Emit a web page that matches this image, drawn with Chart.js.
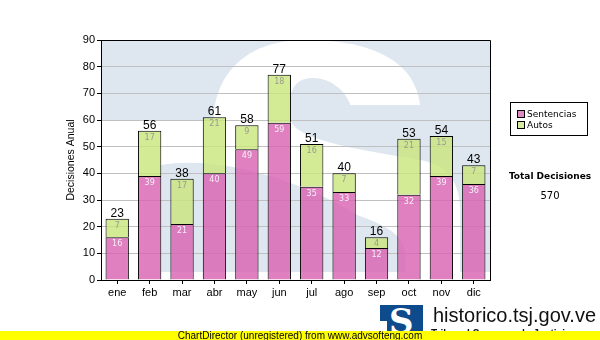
<!DOCTYPE html>
<html lang="es">
<head>
<meta charset="UTF-8">
<title>Decisiones Anual</title>
<script src="https://cdn.jsdelivr.net/npm/chart.js"></script>
<style>
    body { margin: 0; background: #fff; }
    #wrap { position: relative; width: 600px; height: 340px; overflow: hidden; font-family: Arial, "Liberation Sans", sans-serif; }
    #grafico { position: absolute; left: 0; top: 0; }

    /* leyenda y total a la derecha */
    #leyenda { position: absolute; left: 510px; top: 102px; width: 76px; height: 32px; border: 1px solid #000; background: #fff; font: 9px "DejaVu Sans", sans-serif; color: #000; }
    .item { position: absolute; left: 6px; height: 10px; line-height: 10px; white-space: nowrap; }
    .item i { position: absolute; left: 0; top: 1px; width: 6px; height: 6px; border: 1px solid #000; }
    .item span { position: absolute; left: 10px; top: 0; }
    #total-titulo { position: absolute; left: 500px; width: 100px; top: 171px; text-align: center; font: bold 9px "DejaVu Sans", sans-serif; }
    #total-valor { position: absolute; left: 500px; width: 100px; top: 190px; text-align: center; font: 10px "DejaVu Sans", sans-serif; }

    /* pie: logo y franja amarilla */
    #logo { position: absolute; left: 380px; top: 305px; width: 43px; height: 35px; background: #0d4b8c; overflow: hidden; }
    #logo b { position: absolute; left: 9px; top: -4px; color: #fff; font: bold 34px "DejaVu Serif", serif; }
    #logo em { position: absolute; left: 0; top: 16px; width: 7px; height: 20px; background: #fff; }
    #sitio { position: absolute; left: 433px; top: 305px; font: 20px Arial, "Liberation Sans", sans-serif; line-height: 20px; color: #111; }
    #tribunal { position: absolute; left: 431px; top: 328px; font: bold 10px Arial, "Liberation Sans", sans-serif; line-height: 12px; color: #111; }
    #franja { position: absolute; z-index: 5; left: 0; top: 331px; width: 600px; height: 9px; background: #ffff00; text-align: center; font: 10px Arial, "Liberation Sans", sans-serif; line-height: 9px; color: #000; }
</style>
</head>
<body>
<div id="wrap">
    <canvas id="grafico" width="600" height="340"></canvas>

    <div id="leyenda">
        <div class="item" style="top:6px"><i style="background:#e08ac6"></i><span>Sentencias</span></div>
        <div class="item" style="top:17px"><i style="background:#d6eca0"></i><span>Autos</span></div>
    </div>
    <div id="total-titulo">Total Decisiones</div>
    <div id="total-valor"></div>

    <div id="logo"><b>S</b><em></em></div>
    <div id="sitio">historico.tsj.gov.ve</div>
    <div id="tribunal">Tribunal Supremo de Justicia</div>
    <div id="franja">ChartDirector (unregistered) from www.advsofteng.com</div>
</div>

<script>
    const meses = ['ene', 'feb', 'mar', 'abr', 'may', 'jun', 'jul', 'ago', 'sep', 'oct', 'nov', 'dic'];
    const sentencias = [16, 39, 21, 40, 49, 59, 35, 33, 12, 32, 39, 36];
    const autos = [7, 17, 17, 21, 9, 18, 16, 7, 4, 21, 15, 7];
    const ejeMax = 90;
    const ejePaso = 10;

    const totales = meses.map((m, i) => sentencias[i] + autos[i]);
    document.getElementById('total-valor').textContent = totales.reduce((a, b) => a + b, 0);

    // marca de agua: bloque azul con la S blanca, en unidades de 390x240 sobre el área del gráfico
    const marcaAgua = {
        id: 'marcaAgua',
        beforeDraw(chart) {
            const { ctx, chartArea: ca } = chart;
            ctx.save();
            ctx.beginPath();
            ctx.rect(ca.left, ca.top, ca.width, ca.height);
            ctx.clip();
            ctx.translate(ca.left, ca.top);
            ctx.scale(ca.width / 390, ca.height / 240);

            ctx.fillStyle = '#dee7f0';
            ctx.fillRect(0, 0, 390, 232);

            ctx.fillStyle = '#ffffff';
            ctx.beginPath();
            ctx.moveTo(320, 65);
            ctx.bezierCurveTo(315, 20, 270, 0, 205, 0);
            ctx.bezierCurveTo(140, 0, 113, 40, 113, 81);
            ctx.lineTo(0, 81);
            ctx.lineTo(0, 240);
            ctx.lineTo(60, 240);
            ctx.lineTo(60, 125);
            ctx.bezierCurveTo(120, 115, 200, 140, 257, 175);
            ctx.bezierCurveTo(285, 185, 305, 195, 305, 215);
            ctx.lineTo(305, 232);
            ctx.lineTo(360, 232);
            ctx.lineTo(360, 170);
            ctx.bezierCurveTo(360, 140, 345, 125, 320, 120);
            ctx.bezierCurveTo(260, 110, 195, 100, 190, 80);
            ctx.lineTo(190, 60);
            ctx.bezierCurveTo(190, 45, 200, 38, 212, 38);
            ctx.bezierCurveTo(230, 38, 245, 50, 250, 65);
            ctx.closePath();
            ctx.fill();
            ctx.fillRect(0, 232, 390, 8);
            ctx.restore();
        }
    };

    // valores dentro de cada tramo, total encima de la barra y marco del área
    const etiquetas = {
        id: 'etiquetas',
        afterDatasetsDraw(chart) {
            const { ctx, chartArea: ca } = chart;
            ctx.save();
            ctx.strokeStyle = '#000';
            ctx.lineWidth = 1;
            ctx.beginPath();
            ctx.moveTo(ca.left, ca.top + 0.5);
            ctx.lineTo(ca.right + 0.5, ca.top + 0.5);
            ctx.lineTo(ca.right + 0.5, ca.bottom);
            ctx.stroke();

            ctx.textAlign = 'center';
            ctx.textBaseline = 'top';
            ctx.font = '8px "DejaVu Sans"';
            chart.data.datasets.forEach((ds, i) => {
                ctx.fillStyle = i === 0 ? '#f6f0f6' : '#9a9a90';
                chart.getDatasetMeta(i).data.forEach((bar, j) => {
                    ctx.fillText(ds.data[j], bar.x, bar.y + 3);
                });
            });

            ctx.textBaseline = 'alphabetic';
            ctx.font = '12px Arial';
            ctx.fillStyle = '#000';
            chart.getDatasetMeta(1).data.forEach((bar, j) => {
                ctx.fillText(totales[j], bar.x, bar.y - 2);
            });
            ctx.restore();
        }
    };

    new Chart(document.getElementById('grafico'), {
        type: 'bar',
        data: {
            labels: meses,
            datasets: [
                {
                    label: 'Sentencias',
                    data: sentencias,
                    backgroundColor: 'rgba(216, 96, 176, 0.8)',
                    borderColor: '#000',
                    borderWidth: 1,
                    categoryPercentage: 1,
                    barPercentage: 0.72
                },
                {
                    label: 'Autos',
                    data: autos,
                    backgroundColor: 'rgba(201, 230, 124, 0.8)',
                    borderColor: '#000',
                    borderWidth: 1,
                    categoryPercentage: 1,
                    barPercentage: 0.72
                }
            ]
        },
        options: {
            responsive: false,
            animation: false,
            devicePixelRatio: 1,
            layout: { padding: { left: 61, top: 40, right: 110, bottom: 40 } },
            plugins: {
                legend: { display: false },
                tooltip: { enabled: false }
            },
            scales: {
                x: {
                    stacked: true,
                    grid: { offset: false, drawOnChartArea: false, tickLength: 4, tickColor: '#000' },
                    border: { color: '#000' },
                    ticks: { color: '#000', font: { family: 'Arial', size: 11 }, padding: 2, maxRotation: 0 },
                    afterFit(scale) { scale.height = 20; }
                },
                y: {
                    stacked: true,
                    min: 0,
                    max: ejeMax,
                    ticks: { stepSize: ejePaso, color: '#000', font: { family: 'Arial', size: 11 }, padding: 2 },
                    grid: { color: '#c0c0c0', tickColor: '#000', tickLength: 4 },
                    border: { color: '#000' },
                    title: {
                        display: true,
                        text: 'Decisiones Anual',
                        color: '#000',
                        font: { family: 'Arial', size: 10.5 },
                        padding: { top: 4, bottom: 0 }
                    },
                    afterFit(scale) { scale.width = 40; }
                }
            }
        },
        plugins: [marcaAgua, etiquetas]
    });
</script>
</body>
</html>
